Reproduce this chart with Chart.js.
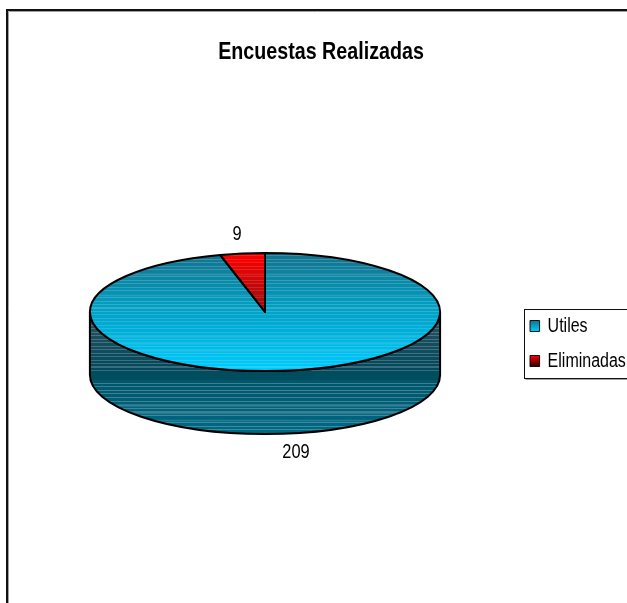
<!DOCTYPE html>
<html>
<head>
<meta charset="utf-8">
<title>Encuestas Realizadas</title>
<script src="https://cdn.jsdelivr.net/npm/chart.js@4/dist/chart.umd.min.js"></script>
<style>
  html, body { margin: 0; padding: 0; background: #fff; overflow: hidden; }
  canvas { display: block; }
</style>
</head>
<body>
<canvas id="pieChart" width="627" height="603"></canvas>
<script>
const categories = ["Utiles", "Eliminadas"];
const values = [209, 9];

const FONT = '"Liberation Sans", Arial, sans-serif';
// the original text is squeezed sideways, no installed font does that
const narrow = 0.82;
const legendNarrow = 0.8;

// where the flattened pie sits on the page
const faceX = 265;
const faceY = 312;
const squash = 0.337;
const wallDepth = 63;

// legend placement on the page
const legendX = 530;
const legendMidY = 343.5;

function hexToRgb(hex) {
  return [1, 3, 5].map((i) => parseInt(hex.slice(i, i + 2), 16));
}

function mix(a, b, t) {
  const ca = hexToRgb(a);
  const cb = hexToRgb(b);
  return ca.map((v, i) => Math.round(v + (cb[i] - v) * t));
}

// adds striped colour bands between two gradient offsets
function addBands(grad, from, to, c0, c1, bands, light) {
  const step = (to - from) / bands;
  for (let i = 0; i < bands; i++) {
    const start = from + i * step;
    const base = mix(c0, c1, i / bands);
    const pale = base.map((v) => Math.round(v + (255 - v) * light));
    const css = `rgb(${base.join(",")})`;
    const cssPale = `rgb(${pale.join(",")})`;
    grad.addColorStop(start, css);
    grad.addColorStop(start + step * 0.7, css);
    grad.addColorStop(start + step * 0.7, cssPale);
    grad.addColorStop(start + step, cssPale);
  }
}

function faceFill(context) {
  const chart = context.chart;
  const area = chart.chartArea;
  if (!area) return "#00ccff";
  const cy = (area.top + area.bottom) / 2;
  const r = (area.bottom - area.top) / 2;
  const grad = chart.ctx.createLinearGradient(0, cy - r, 0, cy + r);
  if (context.dataIndex === 0) {
    addBands(grad, 0, 0.5, "#12738d", "#00a3c9", 17, 0.18);
    addBands(grad, 0.5, 1, "#00a3c9", "#00ccff", 17, 0.14);
  } else {
    addBands(grad, 0, 0.5, "#ff0000", "#8f1010", 17, 0.12);
    addBands(grad, 0.5, 1, "#8f1010", "#300000", 17, 0.12);
  }
  return grad;
}

function legendShiftY(chart) {
  const boxes = chart.legend.legendHitBoxes;
  const last = boxes[boxes.length - 1];
  return legendMidY - (boxes[0].top + last.top + last.height) / 2;
}

const pie3d = {
  id: "pie3d",
  afterInit(chart) {
    // squeeze title and legend text by wrapping their draw calls
    const title = chart.titleBlock;
    const drawTitle = title.draw;
    title.draw = function () {
      const cx = (title.left + title.right) / 2;
      const ctx = chart.ctx;
      ctx.save();
      ctx.translate(cx, 0);
      ctx.scale(narrow, 1);
      ctx.translate(-cx, 0);
      drawTitle.call(title);
      ctx.restore();
    };

    const legend = chart.legend;
    const drawLegend = legend.draw;
    legend.draw = function () {
      const ctx = chart.ctx;
      ctx.save();
      ctx.translate(legendX, legendShiftY(chart));
      ctx.scale(legendNarrow, 1);
      ctx.translate(-legend.legendHitBoxes[0].left, 0);
      drawLegend.call(legend);
      ctx.restore();
    };
  },
  beforeDraw(chart) {
    const { ctx, width, height } = chart;
    // frame runs off the page on the right and at the bottom
    ctx.save();
    ctx.strokeStyle = "#a0a0a0";
    ctx.lineWidth = 1;
    ctx.beginPath();
    ctx.moveTo(8.5, height);
    ctx.lineTo(8.5, 11.5);
    ctx.lineTo(width, 11.5);
    ctx.stroke();
    ctx.strokeStyle = "#111";
    ctx.lineWidth = 2;
    ctx.beginPath();
    ctx.moveTo(7, height);
    ctx.lineTo(7, 10);
    ctx.lineTo(width, 10);
    ctx.stroke();
    ctx.restore();

    // legend swatches need their gradient at their real place
    const boxes = chart.legend.legendHitBoxes;
    chart.legend.legendItems.forEach((item, i) => {
      const top = boxes[i].top + (boxes[i].height - 11) / 2;
      const grad = ctx.createLinearGradient(0, top, 0, top + 11);
      grad.addColorStop(0, i === 0 ? "#12738d" : "#ff0000");
      grad.addColorStop(1, i === 0 ? "#00ccff" : "#300000");
      item.fillStyle = grad;
      item.strokeStyle = "#000";
      item.lineWidth = 1;
    });
  },
  beforeDatasetsDraw(chart) {
    const ctx = chart.ctx;
    const arcs = chart.getDatasetMeta(0).data;
    const r = arcs[0].outerRadius;
    const ry = r * squash;

    const grad = ctx.createLinearGradient(0, faceY, 0, faceY + ry + wallDepth);
    const total = ry + wallDepth;
    addBands(grad, 0, ry / total, "#2a5362", "#00485b", 17, 0.2);
    grad.addColorStop(ry / total, "#004d60");
    grad.addColorStop((ry + 9) / total, "#004d60");
    addBands(grad, (ry + 9) / total, 1, "#00566b", "#006a86", 15, 0.24);

    // side wall: only the part of each slice that faces the viewer
    arcs.forEach((arc) => {
      const lo = Math.max(arc.startAngle, 0);
      const hi = Math.min(arc.endAngle, Math.PI);
      if (lo >= hi) return;
      ctx.beginPath();
      ctx.ellipse(faceX, faceY, r, ry, 0, lo, hi);
      ctx.ellipse(faceX, faceY + wallDepth, r, ry, 0, hi, lo, true);
      ctx.closePath();
      ctx.fillStyle = grad;
      ctx.fill();
      ctx.strokeStyle = "#000";
      ctx.lineWidth = 2;
      ctx.stroke();
    });

    ctx.save();
    ctx.translate(faceX, faceY);
    ctx.scale(1, squash);
    ctx.translate(-arcs[0].x, -arcs[0].y);
  },
  afterDatasetsDraw(chart) {
    const ctx = chart.ctx;
    ctx.restore();
    const arcs = chart.getDatasetMeta(0).data;
    const r = arcs[0].outerRadius;
    const ry = r * squash;

    ctx.save();
    ctx.strokeStyle = "#000";
    ctx.lineWidth = 2;
    ctx.lineJoin = "round";
    arcs.forEach((arc) => {
      ctx.beginPath();
      ctx.moveTo(faceX, faceY);
      ctx.ellipse(faceX, faceY, r, ry, 0, arc.startAngle, arc.endAngle);
      ctx.closePath();
      ctx.stroke();
    });

    // value labels just outside the rim
    ctx.fillStyle = "#000";
    ctx.font = `20px ${FONT}`;
    ctx.textAlign = "center";
    ctx.textBaseline = "middle";
    arcs.forEach((arc, i) => {
      const mid = (arc.startAngle + arc.endAngle) / 2;
      const sin = Math.sin(mid);
      const x = faceX + Math.cos(mid) * r * 1.3 + 1.5;
      const y = faceY + sin * ry * 1.33 + (sin > 0 ? wallDepth : 0);
      ctx.save();
      ctx.translate(x, y);
      ctx.scale(narrow, 1);
      ctx.fillText(String(values[i]), 0, 0);
      ctx.restore();
    });
    ctx.restore();
  },
  afterDraw(chart) {
    const { ctx, width } = chart;
    const boxes = chart.legend.legendHitBoxes;
    const last = boxes[boxes.length - 1];
    const dy = legendShiftY(chart);
    const top = Math.round(boxes[0].top + dy - 7) + 0.5;
    const bottom = Math.round(last.top + last.height + dy + 7) + 0.5;
    const left = 524.5;
    ctx.save();
    ctx.strokeStyle = "#a0a0a0";
    ctx.lineWidth = 1;
    ctx.beginPath();
    ctx.moveTo(left + 1, bottom + 1);
    ctx.lineTo(width, bottom + 1);
    ctx.stroke();
    ctx.strokeStyle = "#111";
    ctx.strokeRect(left, top, width, bottom - top);
    ctx.restore();
  }
};

new Chart(document.getElementById("pieChart"), {
  type: "pie",
  data: {
    labels: categories,
    datasets: [
      {
        data: values,
        backgroundColor: faceFill,
        borderWidth: 0
      }
    ]
  },
  options: {
    responsive: false,
    animation: false,
    rotation: 0,
    layout: {
      padding: { left: 15, right: 0, top: 0, bottom: 84 }
    },
    plugins: {
      title: {
        display: true,
        text: "Encuestas Realizadas",
        color: "#000",
        font: { family: FONT, size: 24, weight: "bold" },
        padding: { top: 38, bottom: 102 }
      },
      legend: {
        position: "right",
        labels: {
          color: "#000",
          font: { family: FONT, size: 20 },
          boxWidth: 12,
          boxHeight: 11,
          padding: 15
        }
      },
      tooltip: { enabled: false }
    }
  },
  plugins: [pie3d]
});
</script>
</body>
</html>
